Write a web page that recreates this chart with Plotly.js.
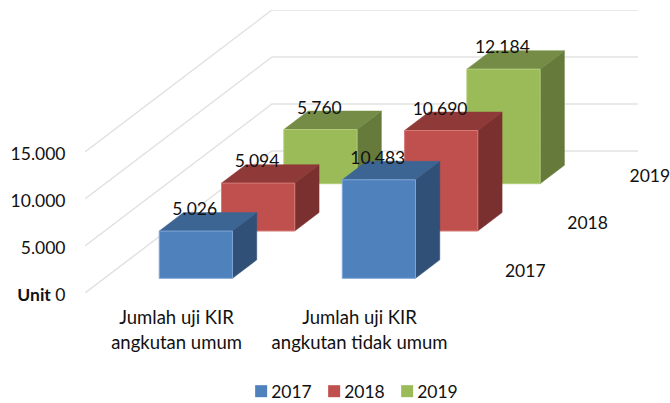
<!DOCTYPE html>
<html>
<head>
<meta charset="utf-8">
<script src="https://cdn.plot.ly/plotly-3.0.0.min.js"></script>
<style>
html,body{margin:0;padding:0;background:#fff}
.legend .legendsymbols{transform:translate(10px,0)}
.legend .scrollbox{clip-path:none !important}
</style>
</head>
<body>
<div id="chart" style="width:670px;height:403px"></div>
<script>
// Data
const categories = ["Jumlah uji KIR<br>angkutan umum", "Jumlah uji KIR<br>angkutan tidak umum"];
const years = ["2017", "2018", "2019"];
const values2017 = [5026, 10483];
const values2018 = [5094, 10690];
const values2019 = [5760, 12184];
const yTicks = [0, 5000, 10000, 15000];
const yTickLabels = ["<b>Unit</b> 0", "5.000", "10.000", "15.000"];

// Colours per series: front, top, side
const frontColors = ["#4F81BD", "#C0504D", "#9BBB59"];
const topColors = ["#3D6594", "#8F3A38", "#748C45"];
const sideColors = ["#305078", "#7A302E", "#657A3B"];
const edgeColors = ["#7FA6D8", "#D47A77", "#B0CC78"];
const gridColor = "#E2E2E2";
const fontFamily = "Lato, 'Open Sans', sans-serif";
const textColor = "#111";
const textSize = 17.5;

// Oblique projection of (category, depth, value) on the 2D axes
const depthX = 0.3404;     // category units per depth step
const depthY = 5033;       // value units per depth step
const barW = 0.4, frontD = 0.31, backD = 0.70;
const px = (c, d) => c + d * depthX;
const py = (v, d) => v + d * depthY;
const allValues = [values2017, values2018, values2019];
const fmt = v => String(v).replace(/\B(?=(\d{3})+$)/g, ".");

const traces = [];
// Legend swatches
years.forEach((y, i) => traces.push({
  type: "bar", x: [null], y: [null], name: y, showlegend: true,
  marker: {color: frontColors[i]}, hoverinfo: "skip"
}));
// Floor + back wall grid lines
yTicks.forEach(v => traces.push({
  type: "scatter", mode: "lines", showlegend: false, hoverinfo: "skip",
  x: [px(0, 0), px(0, 3), px(2, 3)],
  y: [py(v, 0), py(v, 3), py(v, 3)],
  line: {color: gridColor, width: 1.5}
}));
// Bars, back row first
function face(xs, ys, fill, line, w) {
  traces.push({
    type: "scatter", mode: "lines", fill: "toself", fillcolor: fill,
    x: xs, y: ys, line: {color: line, width: w},
    showlegend: false, hoverinfo: "skip"
  });
}
for (let s = 2; s >= 0; s--) {
  allValues[s].forEach((v, c) => {
    const l = c + (1 - barW) / 2, r = l + barW;
    const f = s + frontD, b = s + backD;
    face([px(r, f), px(r, b), px(r, b), px(r, f), px(r, f)],
         [py(0, f), py(0, b), py(v, b), py(v, f), py(0, f)], sideColors[s], sideColors[s], 0.5);
    face([px(l, f), px(l, b), px(r, b), px(r, f), px(l, f)],
         [py(v, f), py(v, b), py(v, b), py(v, f), py(v, f)], topColors[s], topColors[s], 0.5);
    face([px(l, f), px(r, f), px(r, f), px(l, f), px(l, f)],
         [py(0, f), py(0, f), py(v, f), py(v, f), py(0, f)], frontColors[s], edgeColors[s], 1);
  });
}
// Value labels
const labelLift = 2130;
for (let s = 2; s >= 0; s--) {
  traces.push({
    type: "scatter", mode: "text", showlegend: false, hoverinfo: "skip", cliponaxis: false,
    x: allValues[s].map((v, c) => px(c + 0.5, s + frontD) - 0.006),
    y: allValues[s].map(v => py(v, s + frontD) + labelLift),
    text: allValues[s].map(fmt),
    textposition: "middle center",
    textfont: {family: fontFamily, size: textSize, color: textColor}
  });
}
// Depth axis labels
const depthLabelDrop = 320;
traces.push({
  type: "scatter", mode: "text", showlegend: false, hoverinfo: "skip", cliponaxis: false,
  x: years.map((y, s) => px(2.235, s + 0.5)),
  y: years.map((y, s) => py(0, s + 0.5) - depthLabelDrop),
  text: years, textposition: "middle center",
  textfont: {family: fontFamily, size: textSize, color: textColor}
});

// The x range runs a little past the back wall so the last depth label stays in range
const xEnd = (2 + 3 * depthX) * 575 / 553;
const layout = {
  width: 670, height: 403,
  margin: {l: 85, r: 10, t: 10, b: 110, pad: 0},
  paper_bgcolor: "#fff", plot_bgcolor: "#fff",
  font: {family: fontFamily, size: textSize, color: textColor},
  showlegend: true,
  legend: {
    orientation: "h", xref: "container", yref: "container",
    x: 0.345, xanchor: "left", y: 0.029, yanchor: "middle",
    traceorder: "normal", font: {size: textSize},
    entrywidth: 28, entrywidthmode: "pixels", itemclick: false, itemdoubleclick: false
  },
  xaxis: {
    range: [0, xEnd], showgrid: false, zeroline: false, showline: false,
    tickmode: "array", tickvals: [0.5, 1.5],
    ticktext: categories.map(t => t.split("<br>").map(p => `<span style="font-size:18.5px">${p}</span>`).join("<br>")),
    tickfont: {size: 19}, ticks: "outside", ticklen: 7, tickcolor: "rgba(0,0,0,0)", tickangle: 0
  },
  yaxis: {
    range: [0, 15000 + 3 * depthY], showgrid: false, zeroline: false, showline: false,
    tickmode: "array", tickvals: yTicks, ticktext: yTickLabels,
    ticks: "outside", ticklen: 15, tickcolor: "rgba(0,0,0,0)", tickfont: {size: textSize},
    ticklabelshift: 2
  }
};
Plotly.newPlot("chart", traces, layout, {displayModeBar: false, staticPlot: true});
</script>
</body>
</html>
